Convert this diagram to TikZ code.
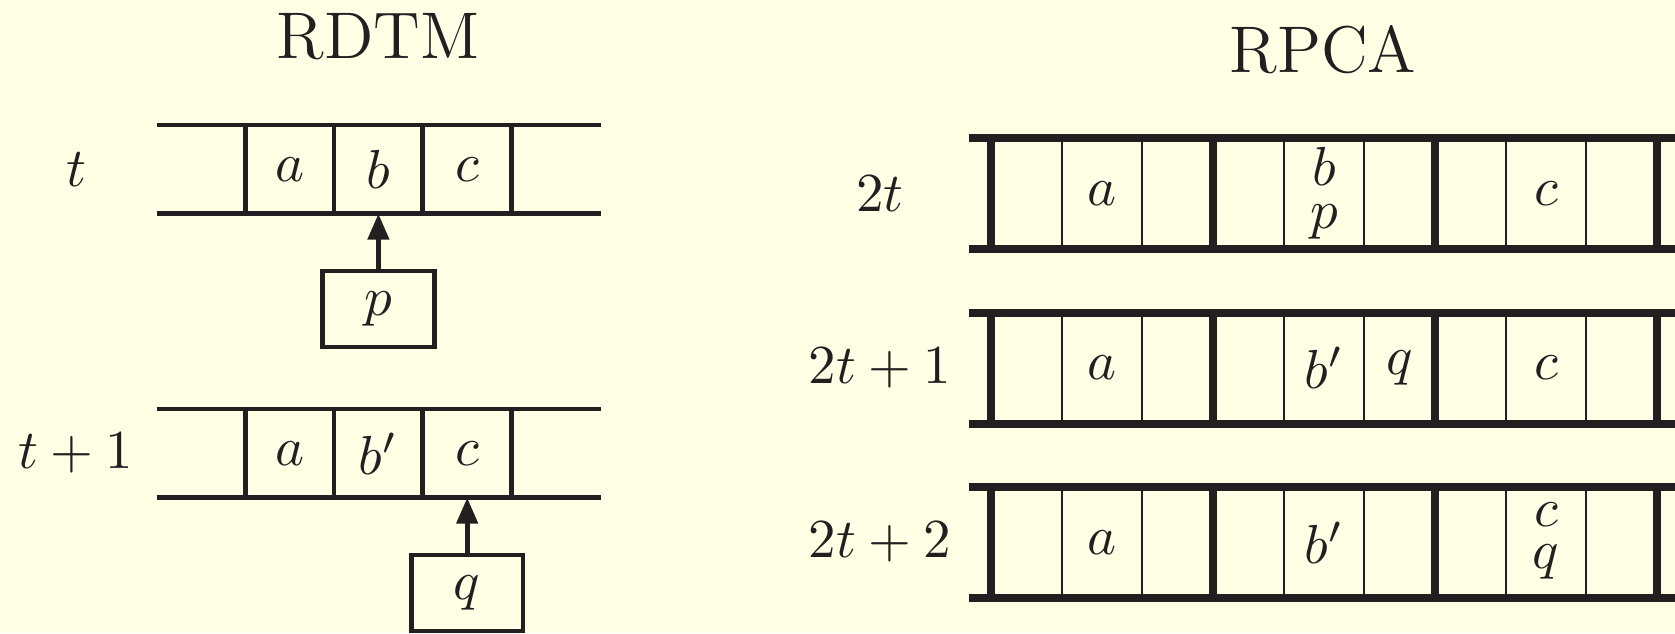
\documentclass[tikz,border=0pt]{standalone}
\usetikzlibrary{arrows.meta, positioning}
\definecolor{cpaper}{HTML}{FFFFE6}
\definecolor{cink}{HTML}{231F20}
\tikzset{
  every picture/.style={line width=0.85pt, color=cink},
  title/.style={font=\large},
  cell/.style={minimum width=#1, minimum height=16.1pt, inner sep=0pt, outer sep=0pt, align=center},
  cell/.default=16.1pt,
  head/.style={draw, minimum width=20.3pt, minimum height=13.8pt, inner sep=0pt},
  arrow/.style={-{Triangle[length=4.7pt, width=3.8pt]}},
  rail/.style={line width=1.45pt},
  wall/.style={line width=1.45pt},
  sep/.style={line width=0.4pt},
}
\begin{document}
\begin{tikzpicture}[x=0.1818pt, y=-0.1818pt]
  \useasboundingbox (0,0) rectangle (1675,633);
  \fill[cpaper] (0,0) rectangle (1675,633);
  \node[title] (rdtm) at (378,37) {RDTM};
  \node[title] (rpca) at (1323,50) {RPCA};
  % RDTM: two snapshots of the tape, head below the scanned cell
  \foreach \r/\y in {0/125, 1/409} {
    \draw (156.7,\y) -- (600.7,\y) (156.7,\y+88.7) -- (600.7,\y+88.7);
    \foreach \x in {245.2,334,422.8,511.6} \draw (\x,\y) -- (\x,\y+88.7);
  }
  \node (t0) at (76,169.4) {$t$};
  \node (t1) at (76,453.4) {$t+1$};
  \node[cell] (a0) at (289.6,169.4) {$a$};
  \node[cell] (b0) at (378.4,169.4) {$b$};
  \node[cell] (c0) at (467.2,169.4) {$c$};
  \node[cell] (a1) at (289.6,453.4) {$a$};
  \node[cell] (b1) at (378.4,453.4) {$b'$};
  \node[cell] (c1) at (467.2,453.4) {$c$};
  \node[head, below=10pt of b0] (p) {$p$};
  \node[head, below=10pt of c1] (q) {$q$};
  \draw[arrow] (p) -- (b0);
  \draw[arrow] (q) -- (c1);
  \foreach \k/\lab in {0/2t, 1/2t+1, 2/2t+2} {
    \draw[rail] (969,138+174.5*\k) -- (1675,138+174.5*\k) (969,249+174.5*\k) -- (1675,249+174.5*\k);
    \foreach \j in {0,...,3} \draw[wall] (991+222*\j,138+174.5*\k) -- ++(0,111);
    \foreach \j in {0,1,2} \draw[sep] (1062+222*\j,138+174.5*\k) -- ++(0,111) (1142+222*\j,138+174.5*\k) -- ++(0,111);
    \node (l\k) at (880,193.5+174.5*\k) {$\lab$};
  }
  \node[cell=14.5pt] (ra0) at (1102,193.5) {$a$};
  \node[cell=14.5pt] (rb0) at (1324,193.5) {$b$\\[-4.2pt]$p$};
  \node[cell=14.5pt] (rc0) at (1546,193.5) {$c$};
  \node[cell=14.5pt] (ra1) at (1102,368) {$a$};
  \node[cell=14.5pt] (rb1) at (1324,368) {$b'$};
  \node[cell=12.9pt] (rq1) at (1399.5,368) {$q$};
  \node[cell=14.5pt] (rc1) at (1546,368) {$c$};
  \node[cell=14.5pt] (ra2) at (1102,542.5) {$a$};
  \node[cell=14.5pt] (rb2) at (1324,542.5) {$b'$};
  \node[cell=14.5pt] (rc2) at (1546,541) {$c$\\[-4.2pt]$q$};
\end{tikzpicture}
\end{document}
